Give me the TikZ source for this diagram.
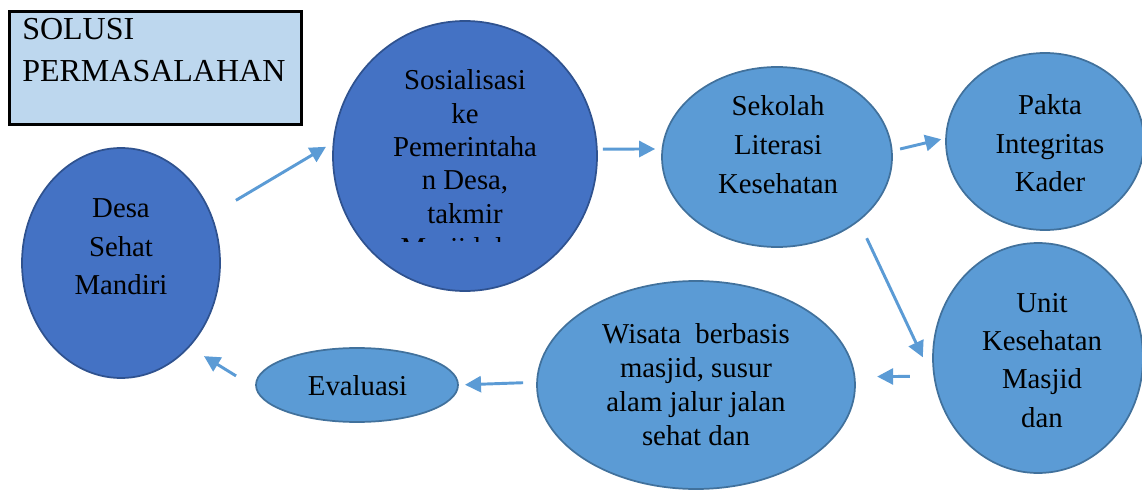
\documentclass[tikz,border=0pt]{standalone}
\usepackage{fontspec}
\setmainfont{Liberation Serif}
\usetikzlibrary{shapes.geometric,arrows.meta}
\definecolor{darkfill}{HTML}{4472C4}
\definecolor{darkedge}{HTML}{2F528F}
\definecolor{lightfill}{HTML}{5B9BD5}
\definecolor{lightedge}{HTML}{41719C}
\definecolor{boxfill}{HTML}{BDD7EE}
\definecolor{arrowcol}{HTML}{5B9BD5}
\tikzset{
  darkell/.style={ellipse, draw=darkedge, fill=darkfill, line width=1.3pt, inner sep=0pt, outer sep=0pt},
  lightell/.style={ellipse, draw=lightedge, fill=lightfill, line width=1.3pt, inner sep=0pt, outer sep=0pt},
  txt/.style={anchor=base, inner sep=0pt, font=\fontsize{21.6}{26}\selectfont},
  boxtxt/.style={anchor=base west, inner sep=0pt, font=\fontsize{24}{29}\selectfont},
  arr/.style={draw=arrowcol, line width=2.2pt, -{Triangle[length=12pt,width=12pt]}}
}
\begin{document}
\begin{tikzpicture}[x=0.75pt,y=-0.75pt]
\useasboundingbox (0,0) rectangle (1142,495);
% title box
\node[draw=black, fill=boxfill, line width=1.9pt, minimum width=219pt, minimum height=84.75pt, inner sep=0pt, anchor=north west] (box) at (8,10) {};
\node[boxtxt] (box1) at (22,40) {SOLUSI};
\node[boxtxt] (box2) at (22,82) {PERMASALAHAN};
% ellipses
\node[darkell, minimum width=148.5pt, minimum height=172.5pt] (desa) at (121,263) {};
\node[darkell, minimum width=198pt, minimum height=202.5pt] (sos) at (465,156) {};
\node[lightell, minimum width=172.5pt, minimum height=135pt] (sek) at (777,157) {};
\node[lightell, minimum width=148.5pt, minimum height=132.75pt] (pakta) at (1045,141.5) {};
\node[lightell, minimum width=157.5pt, minimum height=172.5pt] (unit) at (1038,358) {};
\node[lightell, minimum width=238.5pt, minimum height=156pt] (wis) at (696,385) {};
\node[lightell, minimum width=151.5pt, minimum height=55.5pt] (eval) at (357,385) {};
% texts
\node[txt] (desa1) at (121,218) {Desa};
\node[txt] (desa2) at (121,257) {Sehat};
\node[txt] (desa3) at (121,295) {Mandiri};
\node[txt] (sos1) at (465,90) {Sosialisasi};
\node[txt] (sos2) at (465,123.3) {ke};
\node[txt] (sos3) at (465,156.6) {Pemerintaha};
\node[txt] (sos4) at (465,190) {n Desa,};
\node[txt] (sos5) at (465,223.2) {takmir};
\begin{scope}
\clip (330,20) rectangle (600,242);
\node[txt] (sos6) at (465,258) {Masjid dan};
\end{scope}
\node[txt] (sek1) at (778,116) {Sekolah};
\node[txt] (sek2) at (778,155) {Literasi};
\node[txt] (sek3) at (778,194) {Kesehatan};
\node[txt] (pakta1) at (1050,115) {Pakta};
\node[txt] (pakta2) at (1050,153.3) {Integritas};
\node[txt] (pakta3) at (1050,191.7) {Kader};
\node[txt] (unit1) at (1042,312.3) {Unit};
\node[txt] (unit2) at (1042,350.6) {Kesehatan};
\node[txt] (unit3) at (1042,388.9) {Masjid};
\node[txt] (unit4) at (1042,427.2) {dan};
\node[txt] (wis1) at (696,343) {Wisata\ \ berbasis};
\node[txt] (wis2) at (696,377) {masjid, susur};
\node[txt] (wis3) at (696,411) {alam jalur jalan};
\node[txt] (wis4) at (696,445) {sehat dan};
\node[txt] (eval1) at (357.5,395) {Evaluasi};
% arrows
\draw[arr, shorten <=21.75pt, shorten >=6.75pt] (desa.28.7) -- (sos.174.5);
\draw[arr, shorten <=4.5pt, shorten >=5.5pt] (sos.3.3) -- (sek.176.5);
\draw[arr, shorten <=6.45pt, shorten >=3.75pt] (sek.3.7) -- (pakta.178.5);
\draw[arr, shorten <=14.6pt, shorten >=23.25pt] (sek.-38.5) -- (unit.195.3);
\draw[arr, shorten <=18.3pt, shorten >=17pt] (unit.190.4) -- (wis.3.0);
\draw[arr, shorten <=10.5pt, shorten >=5.25pt] (wis.179.6) -- (eval.0.6);
\draw[arr, shorten <=18pt, shorten >=13.35pt] (eval.182.6) -- (desa.-51.8);
\end{tikzpicture}
\end{document}
